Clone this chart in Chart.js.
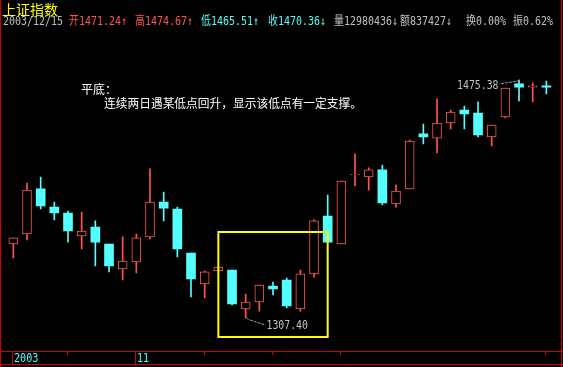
<!DOCTYPE html>
<html>
<head>
<meta charset="utf-8">
<script src="https://cdn.jsdelivr.net/npm/chart.js@4/dist/chart.umd.min.js"></script>
<style>
  html, body { margin: 0; padding: 0; background: #000; overflow: hidden; }
  #wrap { width: 563px; height: 367px; }
</style>
</head>
<body>
<div id="wrap"><canvas id="kline" width="563" height="367"></canvas></div>
<script>
// 上证指数 2003/10/21 - 2003/12/15 日K
const days = [
  '10/21','10/22','10/23','10/24','10/27','10/28','10/29','10/30','10/31',
  '11/03','11/04','11/05','11/06','11/07','11/10','11/11','11/12','11/13','11/14',
  '11/17','11/18','11/19','11/20','11/21','11/24','11/25','11/26','11/27','11/28',
  '12/01','12/02','12/03','12/04','12/05','12/08','12/09','12/10','12/11','12/12','12/15'
];
const opens  = [1359.6,1366.7,1398.5,1385.7,1381.5,1365.3,1371.6,1359.6,1342.0,1346.9,
                1364.6,1389.3,1384.3,1353.3,1331.4,1340.6,1341.3,1313.8,1318.7,1330.0,
                1334.2,1313.8,1338.5,1379.4,1359.6,1408.3,1406.9,1411.9,1387.9,1398.5,
                1437.3,1434.4,1445.0,1454.2,1452.1,1435.2,1449.3,1472.6,1470.4,1471.24];
const highs  = [1363.9,1402.7,1406.9,1389.3,1382.9,1382.2,1375.9,1359.6,1364.6,1366.7,
                1412.6,1396.3,1385.7,1353.3,1340.6,1343.4,1341.3,1324.3,1330.7,1332.8,
                1335.6,1341.3,1376.6,1394.2,1404.1,1423.2,1413.3,1415.4,1401.3,1433.0,
                1444.3,1462.0,1454.2,1457.0,1459.9,1443.6,1469.7,1475.38,1473.3,1474.67];
const lows   = [1349.8,1362.5,1384.3,1376.6,1361.0,1356.1,1344.1,1339.9,1334.2,1339.2,
                1363.2,1375.9,1350.5,1322.2,1321.5,1340.6,1316.6,1307.40,1312.3,1323.6,
                1314.5,1312.3,1336.3,1360.3,1359.6,1400.6,1397.7,1387.2,1385.7,1398.5,
                1430.2,1423.9,1440.8,1440.8,1435.2,1428.8,1448.6,1460.6,1459.9,1465.51];
const closes = [1363.9,1397.7,1386.5,1381.5,1368.8,1368.8,1361.0,1344.1,1347.6,1363.9,
                1389.3,1385.0,1356.1,1334.9,1339.9,1343.4,1317.3,1318.7,1330.7,1327.9,
                1315.9,1338.5,1375.9,1361.0,1404.1,1408.4,1411.9,1388.6,1397.0,1432.3,
                1435.2,1445.0,1452.8,1451.4,1436.6,1443.6,1469.7,1470.4,1471.2,1470.36];

// 底部时间轴刻度 (K线序号) 与标签
const tickIdx    = [0, 4, 9, 14, 19, 24, 39];
const tickLabels = ['2003', '', '11', '', '', '', ''];
const longTicks  = [0, 9];

const UP = '#ff5454', DOWN = '#54ffff', FRAME = '#d00000', GREY = '#c0c0c0';
const NUMFONT = "12px 'DejaVu Sans Mono', 'Noto Sans CJK SC'";

const isUp = opens.map((o, i) => closes[i] >= o);

// 平底框 (K线序号 / 价格)
const boxFrom = 15, boxTo = 23, boxTop = 1368.1, boxBottom = 1294.0;

// 窄字体: 横向压缩
function narrowText(ctx, t, x, y, sx, align) {
  ctx.save();
  ctx.translate(x, y);
  ctx.scale(sx, 1);
  ctx.textAlign = align || 'left';
  ctx.fillText(t, 0, 0);
  ctx.restore();
}

const overlay = {
  id: 'overlay',
  afterDraw(chart) {
    const ctx = chart.ctx;
    const xs = chart.scales.x, ys = chart.scales.y;
    ctx.save();

    // frame + time axis
    ctx.strokeStyle = FRAME;
    ctx.lineWidth = 1;
    ctx.beginPath();
    ctx.moveTo(0.5, 0); ctx.lineTo(0.5, 367);
    ctx.moveTo(561.5, 0); ctx.lineTo(561.5, 367);
    ctx.moveTo(0, 351.5); ctx.lineTo(563, 351.5);
    ctx.moveTo(0, 364.5); ctx.lineTo(563, 364.5);
    tickIdx.forEach(i => {
      const x = Math.round(xs.getPixelForValue(i)) - 0.5;
      ctx.moveTo(x, 351);
      ctx.lineTo(x, longTicks.includes(i) ? 365 : 355);
    });
    ctx.stroke();

    ctx.font = NUMFONT;
    ctx.textBaseline = 'middle';
    ctx.fillStyle = DOWN;
    tickIdx.forEach((i, k) => {
      if (!tickLabels[k]) return;
      const x = Math.round(xs.getPixelForValue(i)) + 1;
      narrowText(ctx, tickLabels[k], x, 358.5, 0.84);
    });

    // title + quote line
    ctx.font = "14px 'Noto Sans CJK SC'";
    ctx.fillStyle = '#ffff00';
    ctx.fillText('上证指数', 2, 9.5);

    const n = opens.length - 1;
    const quote = [
      ['2003/12/15', 3, GREY],
      ['开' + opens[n].toFixed(2) + '↑', 69, UP],
      ['高' + highs[n].toFixed(2) + '↑', 135, UP],
      ['低' + lows[n].toFixed(2) + '↑', 201, DOWN],
      ['收' + closes[n].toFixed(2) + '↓', 268, DOWN],
      ['量12980436↓', 334, GREY],
      ['额837427↓', 400, GREY],
      ['换0.00%', 466, GREY],
      ['振0.62%', 513, GREY]
    ];
    ctx.font = NUMFONT;
    quote.forEach(([t, x, c]) => {
      ctx.fillStyle = c;
      narrowText(ctx, t, x, 21.5, 0.83);
    });

    // 说明文字
    ctx.font = "12px 'Noto Sans CJK SC'";
    ctx.fillStyle = '#ffffff';
    ctx.fillText('平底：', 81, 89);
    ctx.fillText('连续两日遇某低点回升，显示该低点有一定支撑。', 104, 103, 258);

    // yellow box
    ctx.strokeStyle = '#ffff00';
    ctx.lineWidth = 2;
    const bx0 = xs.getPixelForValue(boxFrom), bx1 = xs.getPixelForValue(boxTo);
    const by0 = ys.getPixelForValue(boxTop), by1 = ys.getPixelForValue(boxBottom);
    ctx.strokeRect(bx0, by0, bx1 - bx0, by1 - by0);

    // 最低 / 最高 标注
    const loI = lows.indexOf(Math.min(...lows));
    const hiI = highs.indexOf(Math.max(...highs));
    const lx = Math.round(xs.getPixelForValue(loI)) + 0.5, ly = ys.getPixelForValue(lows[loI]);
    const hx = Math.round(xs.getPixelForValue(hiI)) + 0.5, hy = ys.getPixelForValue(highs[hiI]);
    ctx.strokeStyle = '#a0a0a0';
    ctx.lineWidth = 1;
    ctx.setLineDash([3, 1]);
    ctx.beginPath();
    ctx.moveTo(lx, ly); ctx.lineTo(lx + 2, ly + 1.5); ctx.lineTo(lx + 19, ly + 7);
    ctx.moveTo(hx, hy); ctx.lineTo(hx - 2, hy + 1); ctx.lineTo(hx - 20, hy + 4);
    ctx.stroke();
    ctx.setLineDash([]);
    ctx.font = NUMFONT;
    ctx.fillStyle = GREY;
    narrowText(ctx, lows[loI].toFixed(2), lx + 20, ly + 7.5, 0.82, 'left');
    narrowText(ctx, highs[hiI].toFixed(2), hx - 21, hy + 6, 0.82, 'right');

    ctx.restore();
  }
};

new Chart(document.getElementById('kline').getContext('2d'), {
  type: 'bar',
  data: {
    labels: days,
    datasets: [
      {
        // 影线
        data: lows.map((l, i) => [l, highs[i]]),
        backgroundColor: isUp.map(u => u ? UP : DOWN),
        barThickness: 1,
        grouped: false,
        order: 2
      },
      {
        // 实体
        data: opens.map((o, i) => [o, closes[i]]),
        backgroundColor: isUp.map(u => u ? '#000000' : DOWN),
        borderColor: isUp.map(u => u ? UP : DOWN),
        borderWidth: isUp.map(u => u ? 1 : 0),
        borderSkipped: false,
        barThickness: 9,
        minBarLength: 1,
        grouped: false,
        order: 1
      }
    ]
  },
  options: {
    responsive: false,
    animation: false,
    devicePixelRatio: 1,
    layout: { padding: { left: 6.5, right: 9.8, top: 40, bottom: 17 } },
    plugins: { legend: { display: false }, tooltip: { enabled: false } },
    scales: {
      x: { type: 'category', offset: true, display: false },
      y: { type: 'linear', min: 1284.81, max: 1503.61, display: false }
    }
  },
  plugins: [overlay]
});
</script>
</body>
</html>
